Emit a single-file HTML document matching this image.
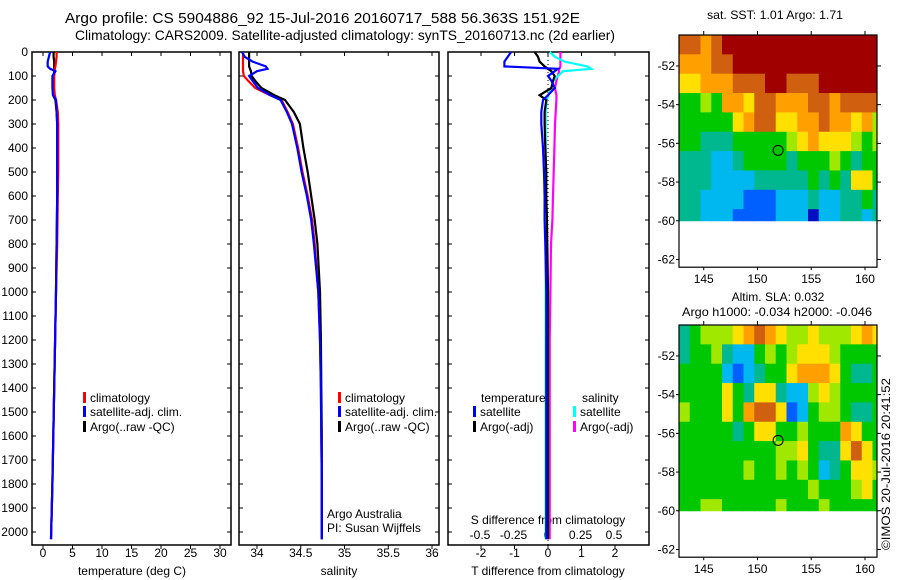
<!DOCTYPE html>
<html><head><meta charset="utf-8"><style>
body{margin:0;background:#fff}
svg{display:block;font-family:"Liberation Sans",sans-serif}
</style></head><body>
<svg id="s" width="900" height="580" xmlns="http://www.w3.org/2000/svg">
<text x="65" y="23" font-size="14.5" textLength="515" lengthAdjust="spacingAndGlyphs">Argo profile: CS 5904886_92 15-Jul-2016 20160717_588 56.363S 151.92E</text>
<text x="75" y="40" font-size="14" textLength="540" lengthAdjust="spacingAndGlyphs">Climatology: CARS2009. Satellite-adjusted climatology: synTS_20160713.nc (2d earlier)</text>
<text x="707" y="19" font-size="12" textLength="136" lengthAdjust="spacingAndGlyphs">sat. SST: 1.01  Argo: 1.71</text>
<text x="778" y="301" font-size="12" text-anchor="middle">Altim. SLA: 0.032</text>
<text x="682" y="316" font-size="12" textLength="190" lengthAdjust="spacingAndGlyphs">Argo h1000: -0.034 h2000: -0.046</text>
<text transform="translate(890,550) rotate(-90)" font-size="12" textLength="172" lengthAdjust="spacingAndGlyphs">©IMOS 20-Jul-2016 20:41:52</text>
<g id="g"></g>
</svg>
<script>
const depth=[0,20,40,60,70,80,100,120,150,180,200,250,300,400,500,600,700,800,1000,1200,1400,1600,1800,2030];
const climT=[2.3,2.3,2.2,2.1,2.0,2.0,1.9,1.9,1.9,2.0,2.2,2.5,2.6,2.6,2.6,2.5,2.45,2.4,2.2,2.05,1.9,1.75,1.6,1.35];
const satT=[1.2,1.0,0.8,0.8,1.2,2.1,1.6,1.6,1.6,1.7,2.2,2.3,2.4,2.4,2.4,2.4,2.35,2.3,2.2,2.05,1.9,1.75,1.6,1.35];
const argoT=[1.8,1.8,1.9,1.9,1.9,1.9,1.8,1.8,1.7,1.7,2.1,2.3,2.4,2.4,2.4,2.4,2.35,2.3,2.2,2.05,1.9,1.75,1.6,1.35];
const climS=[33.84,33.84,33.84,33.84,33.84,33.84,33.85,33.9,33.98,34.15,34.28,34.35,34.41,34.47,34.52,34.58,34.63,34.66,34.7,34.72,34.73,34.735,34.74,34.74];
const satS=[33.83,33.86,33.95,34.1,34.12,34.0,33.91,33.95,34.01,34.15,34.27,34.34,34.4,34.46,34.51,34.57,34.62,34.65,34.7,34.72,34.73,34.735,34.74,34.74];
const argoS=[33.91,33.91,33.91,33.91,33.92,33.93,33.94,33.98,34.05,34.2,34.32,34.42,34.49,34.53,34.58,34.62,34.66,34.69,34.72,34.73,34.735,34.74,34.74,34.74];
const dSatT=[-1.1,-1.2,-1.3,-1.3,0.3,0.2,0.0,0.1,0.2,0.0,-0.15,-0.2,-0.2,-0.15,-0.12,-0.1,-0.1,-0.08,-0.05,-0.05,-0.05,-0.05,-0.05,-0.05];
const dArgoT=[-0.4,-0.3,-0.25,-0.1,0.0,0.1,0.2,0.15,0.1,-0.25,-0.05,-0.1,-0.1,-0.08,-0.05,-0.05,-0.03,-0.02,0.0,0.0,0.0,0.0,0.0,0.0];
const dSatS=[0.02,0.06,0.13,0.3,0.33,0.12,0.08,0.05,0.03,0.01,0.0,-0.01,-0.01,-0.01,-0.01,-0.01,-0.01,-0.01,-0.01,-0.01,-0.01,-0.01,-0.01,-0.01];
const dArgoS=[0.1,0.1,0.1,0.1,0.09,0.09,0.08,0.07,0.06,0.07,0.07,0.065,0.06,0.055,0.05,0.045,0.04,0.03,0.025,0.02,0.02,0.02,0.02,0.02];
const depthTicks=[0,100,200,300,400,500,600,700,800,900,1000,1100,1200,1300,1400,1500,1600,1700,1800,1900,2000];
const tTicks=[0,5,10,15,20,25,30];
const sTicks=[34,34.5,35,35.5,36];
const sTickLabels=["34","34.5","35","35.5","36"];
const dTTicks=[-2,-1,0,1,2];
const dSTicks=[-0.5,-0.25,0,0.25,0.5];
const dSTickLabels=["-0.5","-0.25","0","0.25","0.5"];
const lonTicks=[145,150,155,160];
const latTicks=[-52,-54,-56,-58,-60,-62];
const sstGrid=[
[8,8,7,8,9,9,9,9,9,9,9,9,9,9,9,9,9,9,9],
[7,7,7,8,8,9,9,9,9,9,9,9,9,9,9,9,9,9,9],
[6,6,7,7,7,8,8,8,9,9,8,8,8,9,9,9,9,9,9],
[4,4,5,4,7,7,6,8,8,7,7,7,8,8,7,8,8,8,8],
[4,4,4,4,4,6,7,8,8,6,6,7,7,8,7,7,6,7,5],
[4,4,3,3,3,4,4,4,4,4,5,6,7,6,6,6,5,4,5],
[3,3,3,2,2,3,4,4,4,4,3,4,4,4,5,4,3,4,4],
[3,3,3,2,2,2,2,3,3,3,3,3,4,3,4,3,6,6,4],
[3,3,2,2,2,2,1,1,1,2,2,2,3,2,2,3,3,4,3],
[3,3,2,2,2,1,1,1,1,2,2,2,0,2,2,3,3,2,3]];
const slaGrid=[
[3,4,5,5,5,6,7,8,7,6,5,5,6,5,5,5,6,7,6],
[3,4,4,5,3,2,2,4,5,4,5,6,6,6,5,4,4,4,4],
[4,4,4,4,2,1,2,3,4,4,6,7,7,7,6,4,3,3,4],
[4,4,4,4,6,4,3,6,6,3,2,2,5,6,5,4,4,4,4],
[5,4,4,4,6,4,7,8,8,6,1,2,4,5,5,4,3,3,4],
[4,4,4,4,4,3,4,6,6,4,4,5,4,4,4,7,6,4,4],
[4,4,4,4,4,4,4,4,4,5,5,6,4,3,3,6,8,6,4],
[4,4,4,4,4,4,5,4,4,5,4,5,4,2,3,4,6,6,5],
[4,4,4,4,4,4,4,4,4,4,4,4,5,4,4,4,5,6,4],
[4,4,5,5,4,4,4,4,4,5,4,4,4,5,4,4,4,4,4]];
const palette=["#0010c0","#0060ff","#00b8f0","#00b890","#00c800","#a0e800","#ffe000","#ffa000","#d06010","#a00000"];
const floatLon=151.92, floatLat=-56.36;

const NS="http://www.w3.org/2000/svg";
const G=document.getElementById('g');
function mk(tag,at,parent){const e=document.createElementNS(NS,tag);for(const k in at)e.setAttribute(k,at[k]);(parent||G).appendChild(e);return e;}
function txt(x,y,s,size,anchor,parent){const t=mk('text',{x:x,y:y,'font-size':size,'text-anchor':anchor||'start'},parent);t.textContent=s;return t;}
const TOP=52,BOT=545;
function yD(d){return TOP+d*0.24;}
const panels=[{x0:32,x1:231,name:'temperature-panel'},{x0:239,x1:439,name:'salinity-panel'},{x0:448,x1:649,name:'difference-panel'}];
const xT=v=>43+v*5.9, xS=v=>257+(v-34)*87.5, xDT=v=>548+v*33.5, xDS=v=>547+v*134;
panels.forEach(p=>{
 const r=mk('rect',{x:p.x0,y:TOP,width:p.x1-p.x0,height:BOT-TOP,fill:'none',stroke:'#000','stroke-width':1.5});
 
 
 depthTicks.forEach(d=>{mk('line',{x1:p.x0,x2:p.x0+4,y1:yD(d),y2:yD(d),stroke:'#000'});mk('line',{x1:p.x1,x2:p.x1-4,y1:yD(d),y2:yD(d),stroke:'#000'});});
});
depthTicks.forEach(d=>{const t=txt(28,yD(d)+4,String(d),12,'end');
 
 });
function xticks(arr,labels,fx,ylab,name){arr.forEach((v,i)=>{const x=fx(v);mk('line',{x1:x,x2:x,y1:BOT,y2:BOT+4,stroke:'#000'});mk('line',{x1:x,x2:x,y1:TOP,y2:TOP+4,stroke:'#000'});
 const t=txt(x,ylab,labels?labels[i]:String(v),12,'middle');
 
 });}
xticks(tTicks,null,xT,557,'temperature-tick-label');
xticks(sTicks,sTickLabels,xS,557,'salinity-tick-label');
xticks(dTTicks,null,xDT,557,'t-diff-tick-label');
dSTicks.forEach((v,i)=>{const t=txt(xDS(v),539,dSTickLabels[i],12,'middle');
 
 });
[[132,'temperature (deg C)','x-axis-title-temperature'],[339,'salinity','x-axis-title-salinity'],[548,'T difference from climatology','x-axis-title-t-diff']].forEach(a=>{const t=txt(a[0],575,a[1],12,'middle');
 
 });
const sd=txt(548,524,'S difference from climatology',12,'middle');


mk('line',{x1:548,x2:548,y1:TOP,y2:BOT,stroke:'#000','stroke-dasharray':'1,3'});
function line(vals,fx,col,name){const pts=vals.map((v,i)=>fx(v).toFixed(1)+','+yD(depth[i]).toFixed(1)).join(' ');
 const l=mk('polyline',{points:pts,fill:'none',stroke:col,'stroke-width':2.2});
 
 }
line(argoT,xT,'#000','argo-temperature-line');line(climT,xT,'#f00','climatology-temperature-line');line(satT,xT,'#00f','satellite-temperature-line');
line(climS,xS,'#f00','climatology-salinity-line');line(argoS,xS,'#000','argo-salinity-line');line(satS,xS,'#00f','satellite-salinity-line');
line(dArgoS,xDS,'#f0f','argo-salinity-diff-line');line(dSatS,xDS,'#0ff','satellite-salinity-diff-line');line(dArgoT,xDT,'#000','argo-temperature-diff-line');line(dSatT,xDT,'#00f','satellite-temperature-diff-line');
function leg(x,y,col,label,name){mk('rect',{x:x,y:y-10,width:3,height:11,fill:col});const t=txt(x+7,y,label,12);
 
 }
leg(83,402,'#f00','climatology','legend-climatology');leg(83,416,'#00f','satellite-adj. clim.','legend-satellite');leg(83,431,'#000','Argo(..raw -QC)','legend-argo');
leg(338,402,'#f00','climatology','legend-climatology-2');leg(338,416,'#00f','satellite-adj. clim.','legend-satellite-2');leg(338,431,'#000','Argo(..raw -QC)','legend-argo-2');
txt(481,402,'temperature',12);txt(582,402,'salinity',12);
leg(473,416,'#00f','satellite','legend-t-satellite');leg(473,431,'#000','Argo(-adj)','legend-t-argo');
leg(573,416,'#0ff','satellite','legend-s-satellite');leg(573,431,'#f0f','Argo(-adj)','legend-s-argo');
txt(327,518,'Argo Australia',12);txt(327,532,'PI: Susan Wijffels',12);
const MX0=679,MX1=877,LON0=142.7,PXD=10.75,PXL=19.35;
function drawMap(grid,top,name){
 const xL=v=>MX0+(v-LON0)*PXD, yL=v=>top+(-50.4-v)*PXL;
 const g=mk('g',{});
 
 
 grid.forEach((row,r)=>row.forEach((c,k)=>{const la0=-50.4-r*1.0, la1=Math.max(la0-1,-60);
  const lo0=LON0+k, lo1=Math.min(lo0+1,161.1);
  const cell=mk('rect',{x:xL(lo0),y:yL(la0),width:xL(lo1)-xL(lo0)+0.5,height:yL(la1)-yL(la0)+0.5,fill:palette[c]},g);
  
  }));
 const bottom=yL(-62.4);
 mk('rect',{x:MX0,y:top,width:MX1-MX0,height:bottom-top,fill:'none',stroke:'#000','stroke-width':1.2});
 lonTicks.forEach(v=>{const x=xL(v);mk('line',{x1:x,x2:x,y1:top,y2:top-4,stroke:'#000'});mk('line',{x1:x,x2:x,y1:bottom,y2:bottom+3,stroke:'#000'});
  const t=txt(x,bottom+16,String(v),12,'middle');
  
  });
 latTicks.forEach(v=>{const y=yL(v);mk('line',{x1:MX1,x2:MX1+4,y1:y,y2:y,stroke:'#000'});mk('line',{x1:MX0,x2:MX0-3,y1:y,y2:y,stroke:'#000'});
  const t=txt(675,y+4,String(v),12,'end');
  
  });
 const c=mk('circle',{cx:xL(floatLon),cy:yL(floatLat),r:5,fill:'none',stroke:'#000','stroke-width':1});
 
 
}
drawMap(sstGrid,35,'sst-map');
drawMap(slaGrid,325,'sla-map');
</script>
</body></html>
